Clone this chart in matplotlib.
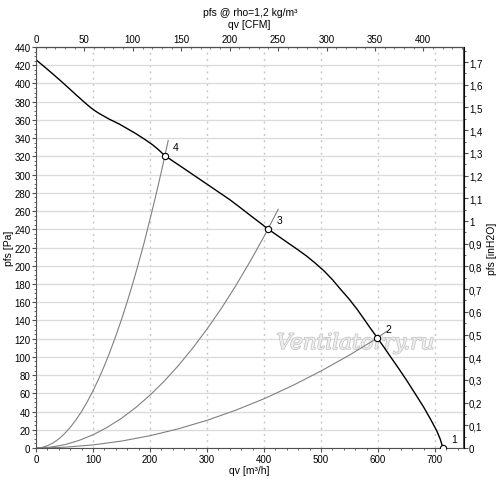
import numpy as np
import matplotlib.pyplot as plt
import matplotlib.patheffects as pe
from matplotlib.ticker import MultipleLocator, FixedLocator, FuncFormatter

plt.rcParams['font.family'] = ['Liberation Sans', 'DejaVu Sans']

# fan curve
fan_qv = [0, 15, 29, 44, 58.5, 70, 82, 90, 97, 104, 111, 128, 146, 160, 175, 190, 205, 216, 226,
          245, 260, 280, 300, 320, 340, 360, 380, 395, 407, 425, 445, 460, 475, 490, 505, 520, 534,
          549, 563, 575, 586, 599, 610, 621, 636, 650, 665, 680, 692, 703, 709, 713.5]
fan_p = [426, 418.2, 410.7, 402.5, 394.3, 387.7, 381, 376.6, 373, 369.8, 367, 361, 355.5, 350.5,
         345, 339, 332.5, 326.7, 320.8, 312.8, 306.5, 298, 289.5, 281, 272.5, 263, 253.3, 246.2,
         240.3, 232.5, 223.8, 217.3, 210.5, 202.8, 194.5, 184.8, 174.4, 163.7, 152.5, 141.9, 132,
         120.7, 111, 101, 87.5, 74.5, 59.8, 45, 31.8, 19, 10, 1]

# system curves
sys4_qv = [0, 10, 20, 30, 40, 50, 60, 70, 80, 90, 100, 110, 120, 130, 140, 150, 160, 170, 180, 190,
           200, 210, 220, 226, 232]
sys4_p = [0, 0.6, 2.5, 5.6, 10, 15.7, 22.6, 30.7, 40.1, 50.8, 62.7, 75.9, 90.3, 106, 123, 141,
          160.5, 181, 203, 226, 251, 276.5, 303.5, 320.5, 337.5]
sys3_qv = [0, 25, 50, 75, 100, 125, 150, 175, 200, 225, 250, 275, 300, 325, 350, 375, 400, 407, 425]
sys3_p = [0, 0.9, 3.6, 8.2, 14.5, 22.7, 32.6, 44.4, 58, 73.4, 90.6, 109.7, 130.5, 153, 177.6, 204,
          232, 240.3, 262]
sys2_qv = [0, 50, 100, 150, 200, 250, 300, 350, 400, 450, 500, 550, 599, 615]
sys2_p = [0, 0.85, 3.4, 7.6, 13.5, 21.1, 30.4, 41.4, 54, 68.5, 84.5, 102, 120.7, 128]

# operating points
op_qv = [713.5, 599, 407, 226]
op_p = [0, 120.7, 240.3, 320.5]
op_labels = ['1', '2', '3', '4']

cfm_ticks = [0, 50, 100, 150, 200, 250, 300, 350, 400]
inh2o_ticks = [0, 0.1, 0.2, 0.3, 0.4, 0.5, 0.6, 0.7, 0.8, 0.9, 1.0, 1.1, 1.2, 1.3, 1.4, 1.5, 1.6, 1.7]

PA_PER_INH2O = 249.089
CFM_PER_M3H = 0.588578

fig = plt.figure(figsize=(5.0, 4.85), dpi=100)
ax = fig.add_axes([0.072, 0.0742, 0.855, 0.8268])

ax.set_xlim(0, 750)
ax.set_ylim(0, 440)

ax.xaxis.set_major_locator(MultipleLocator(100))
ax.xaxis.set_minor_locator(MultipleLocator(20))
ax.yaxis.set_major_locator(MultipleLocator(20))
ax.yaxis.set_minor_locator(MultipleLocator(5))

ax.grid(axis='y', which='major', color='#dcdcdc', lw=1.0, ls='-')
ax.grid(axis='x', which='major', color='#c8c8c8', lw=1.0, ls=(0, (1.5, 3)))
ax.set_axisbelow(True)

gray = '#808080'
ax.plot(sys4_qv, sys4_p, color=gray, lw=0.8)
ax.plot(sys3_qv, sys3_p, color=gray, lw=0.8)
ax.plot(sys2_qv, sys2_p, color=gray, lw=0.8)
ax.plot(fan_qv, fan_p, color='black', lw=1.0)

ax.plot(op_qv, op_p, 'o', ms=4.5, mfc='white', mec='black', mew=0.8, zorder=5)
for q, p, lab in zip(op_qv, op_p, op_labels):
    ax.annotate(lab, (q, p), xytext=(6, 4), textcoords='offset points', fontsize=7.5)

ax.text(0.747, 0.262, 'Ventilatorry.ru', transform=ax.transAxes, ha='center', va='center',
        fontsize=15.5, family='DejaVu Serif', style='italic', color='#eeeeee',
        path_effects=[pe.withStroke(linewidth=1.1, foreground='#c4c4c4')], zorder=1)

for s in ax.spines.values():
    s.set_color('#505050')

ax.tick_params(which='both', direction='out', labelsize=7, pad=1, color='#505050')
ax.tick_params(which='major', length=3)
ax.tick_params(which='minor', length=1.5)

ax.set_xlabel('qv [m³/h]', fontsize=7.5, labelpad=1)
ax.set_ylabel('pfs [Pa]', fontsize=7.5, labelpad=0)

top = ax.secondary_xaxis('top', functions=(lambda x: x * CFM_PER_M3H, lambda x: x / CFM_PER_M3H))
top.xaxis.set_major_locator(FixedLocator(cfm_ticks))
top.xaxis.set_minor_locator(FixedLocator(list(range(0, 441, 10))))
top.tick_params(which='both', direction='in', labelsize=7, pad=2, color='#505050')
top.tick_params(which='major', length=3)
top.tick_params(which='minor', length=1.5)
top.set_xlabel('qv [CFM]', fontsize=7.5, labelpad=5)

right = ax.secondary_yaxis('right', functions=(lambda y: y / PA_PER_INH2O, lambda y: y * PA_PER_INH2O))
right.yaxis.set_major_locator(FixedLocator(inh2o_ticks))
right.yaxis.set_minor_locator(FixedLocator([i * 0.05 for i in range(36)]))
right.yaxis.set_major_formatter(FuncFormatter(lambda v, pos: ('%.1f' % v).rstrip('0').rstrip('.').replace('.', ',') if abs(v) > 1e-9 else '0'))
right.tick_params(which='both', direction='out', labelsize=7, pad=1, color='#505050')
right.tick_params(which='major', length=3)
right.tick_params(which='minor', length=1.5)
right.set_ylabel('pfs [inH2O]', fontsize=7.5, labelpad=3, rotation=90)

fig.text(0.5, 0.974, 'pfs @ rho=1,2 kg/m³', ha='center', va='center', fontsize=7.5)

fig.savefig('out.png', dpi=100)
